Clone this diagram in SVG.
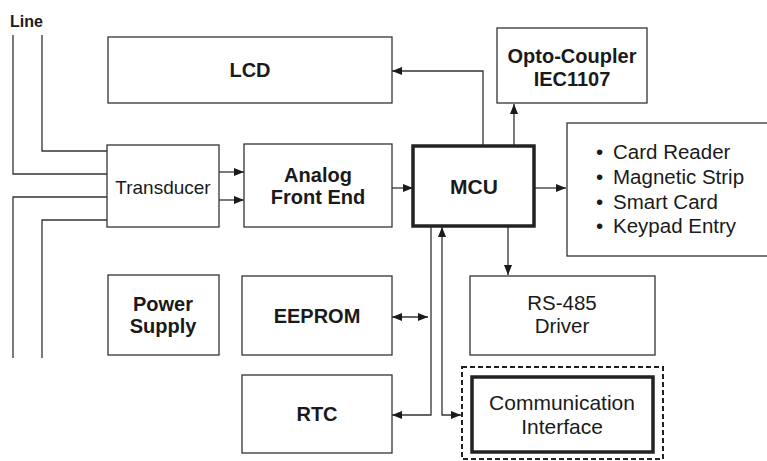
<svg xmlns="http://www.w3.org/2000/svg" width="767" height="461" viewBox="0 0 767 461">
<style>
  .box{fill:#fff;stroke:#333;stroke-width:1.3}
  .thick{fill:#fff;stroke:#222;stroke-width:3.5}
  .dash{fill:none;stroke:#222;stroke-width:2;stroke-dasharray:5 3}
  .wire{fill:none;stroke:#333;stroke-width:1.3}
  text{font-family:"Liberation Sans",Arial,sans-serif;fill:#1a1a1a}
  .b{font-weight:bold;font-size:20px;text-anchor:middle}
  .r{font-size:20.5px;text-anchor:middle}
  .l{font-size:20.5px}
</style>
<defs>
  <marker id="ah" markerUnits="userSpaceOnUse" markerWidth="10" markerHeight="8" refX="10" refY="4" orient="auto-start-reverse">
    <path d="M0,0 L10,4 L0,8 z" fill="#1a1a1a"/>
  </marker>
</defs>
<text x="10" y="27" style="font-weight:bold;font-size:16px">Line</text>
<g id="connectors">
  <path class="wire" d="M42,35 V151 H107"/>
  <path class="wire" d="M13,35 V174 H107"/>
  <path class="wire" d="M107,197 H13 V358"/>
  <path class="wire" d="M107,220 H42 V358"/>
  <path class="wire" d="M219,172 H244" marker-end="url(#ah)"/>
  <path class="wire" d="M219,200 H244" marker-end="url(#ah)"/>
  <path class="wire" d="M392,188 H413" marker-end="url(#ah)"/>
  <path class="wire" d="M534,188 H566" marker-end="url(#ah)"/>
  <path class="wire" d="M514,146 V104" marker-end="url(#ah)"/>
  <path class="wire" d="M483,146 V71 H392" marker-end="url(#ah)"/>
  <path class="wire" d="M508,226 V275" marker-end="url(#ah)"/>
  <path class="wire" d="M392,317 H428" marker-start="url(#ah)" marker-end="url(#ah)"/>
  <path class="wire" d="M431,226 V415 H392" marker-end="url(#ah)"/>
  <path class="wire" d="M442,227 V415 H461" marker-start="url(#ah)" marker-end="url(#ah)"/>
</g>
<g id="lcd"><rect class="box" x="108" y="37" width="284" height="66"/><text class="b" x="250" y="77">LCD</text></g>
<g id="opto"><rect class="box" x="497" y="28" width="150" height="75"/><text class="b" x="572" y="63">Opto-Coupler</text><text class="b" x="572" y="86">IEC1107</text></g>
<g id="transducer"><rect class="box" x="107" y="145" width="112" height="82"/><text class="r" x="163" y="194" style="font-size:19px">Transducer</text></g>
<g id="afe"><rect class="box" x="244" y="144" width="148" height="83"/><text class="b" x="318" y="182">Analog</text><text class="b" x="318" y="204">Front End</text></g>
<g id="mcu"><rect class="thick" x="413" y="146" width="121" height="80"/><text class="b" x="474" y="194" style="font-size:21px">MCU</text></g>
<g id="cards"><rect class="box" x="567" y="123" width="210" height="133"/>
  <text class="l" y="159"><tspan x="596">•</tspan><tspan x="613">Card Reader</tspan></text>
  <text class="l" y="184"><tspan x="596">•</tspan><tspan x="613">Magnetic Strip</tspan></text>
  <text class="l" y="209"><tspan x="596">•</tspan><tspan x="613">Smart Card</tspan></text>
  <text class="l" y="233"><tspan x="596">•</tspan><tspan x="613">Keypad Entry</tspan></text>
</g>
<g id="power"><rect class="box" x="108" y="275" width="111" height="80"/><text class="b" x="163" y="311">Power</text><text class="b" x="163" y="333">Supply</text></g>
<g id="eeprom"><rect class="box" x="242" y="276" width="150" height="79"/><text class="b" x="317" y="323">EEPROM</text></g>
<g id="rs485"><rect class="box" x="470" y="276" width="185" height="79"/><text class="r" x="562" y="310">RS-485</text><text class="r" x="562" y="333">Driver</text></g>
<g id="rtc"><rect class="box" x="242" y="375" width="150" height="78"/><text class="b" x="317" y="421">RTC</text></g>
<g id="comm"><rect class="dash" x="462" y="367" width="201" height="92"/><rect class="thick" x="472" y="377" width="181" height="75"/><text class="r" x="562" y="410" style="font-size:21px">Communication</text><text class="r" x="562" y="434" style="font-size:21px">Interface</text></g>
</svg>
